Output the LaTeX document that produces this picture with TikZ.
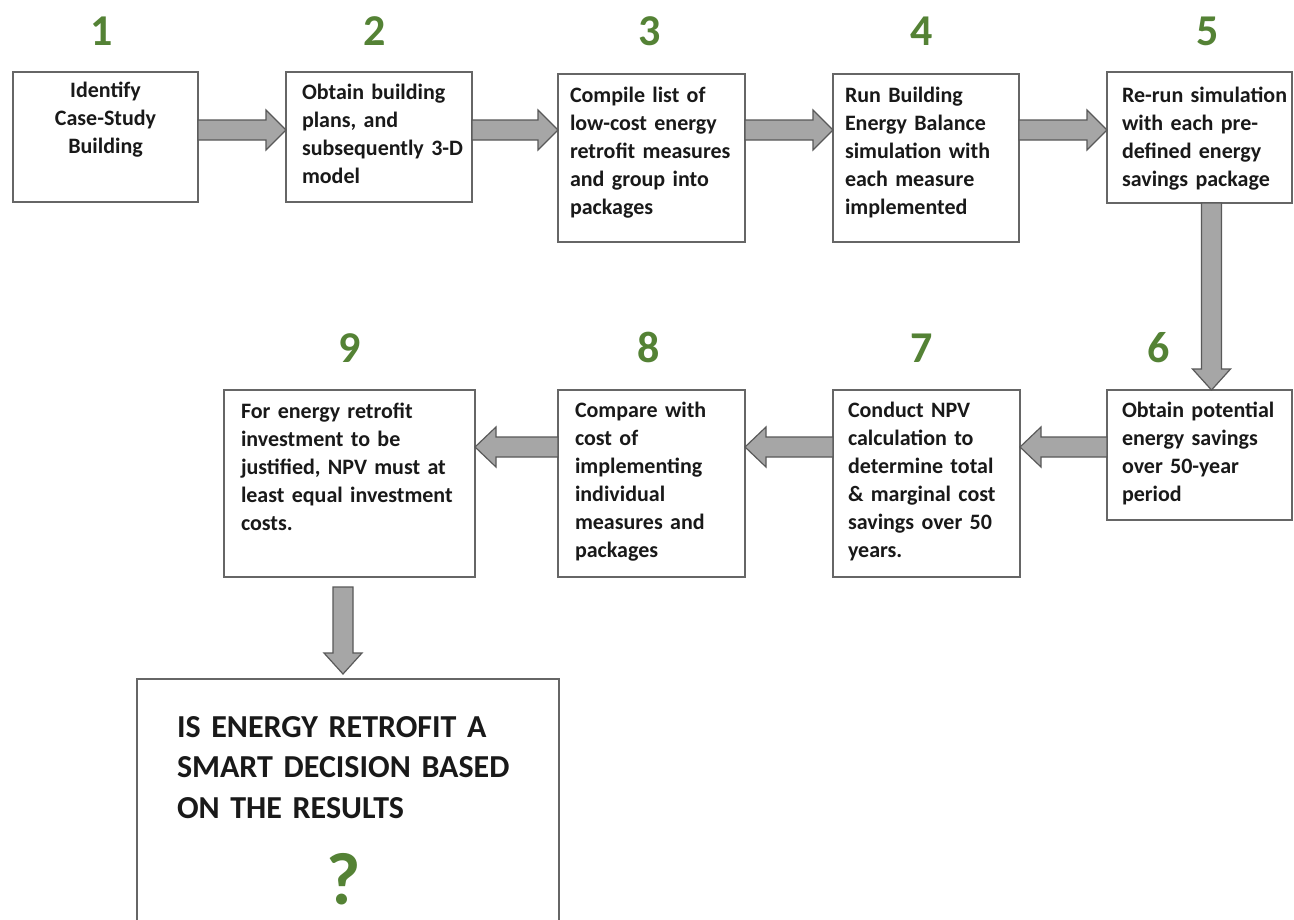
\documentclass[tikz,border=0pt]{standalone}
\usepackage{fontspec}
\setmainfont{Carlito}
\usetikzlibrary{calc}
\definecolor{numgreen}{HTML}{548235}
\definecolor{boxline}{HTML}{666666}
\definecolor{arrfill}{HTML}{A6A6A6}
\definecolor{arrline}{HTML}{595959}
\tikzset{
  frame/.style={draw=boxline, line width=1.5pt, fill=white, inner sep=0pt, outer sep=0pt, anchor=north west},
  btext/.style={inner sep=0pt, outer sep=0pt, anchor=base west, align=left, text=black!90,
    font=\fontsize{22}{28}\selectfont\bfseries},
  stepnum/.style={inner sep=0pt, anchor=base, text=numgreen, font=\fontsize{44}{44}\selectfont\bfseries},
  blk/.style={fill=arrfill, draw=arrline, line width=1.2pt, line join=miter},
}
\newcommand\rarrow[3]{%
  \path (#1.east |- #3) coordinate (as) (#2.west |- #3) coordinate (ae);
  \filldraw[blk] ($(as)+(0,-10)$) -- ($(ae)+(-20,-10)$) -- ($(ae)+(-20,-20)$) -- (ae)
    -- ($(ae)+(-20,20)$) -- ($(ae)+(-20,10)$) -- ($(as)+(0,10)$) -- cycle;}
\newcommand\larrow[3]{%
  \path (#1.west |- #3) coordinate (as) (#2.east |- #3) coordinate (ae);
  \filldraw[blk] ($(as)+(0,-10)$) -- ($(ae)+(21,-10)$) -- ($(ae)+(21,-20)$) -- (ae)
    -- ($(ae)+(21,20)$) -- ($(ae)+(21,10)$) -- ($(as)+(0,10)$) -- cycle;}
% #1 from, #2 to, #3 column, #4 start gap, #5 end gap
\newcommand\darrow[5]{%
  \path ($(#3 |- #1.south)+(0,#4)$) coordinate (as) ($(#3 |- #2.north)+(0,-#5)$) coordinate (ae);
  \filldraw[blk] ($(as)+(-10,0)$) -- ($(ae)+(-10,-21)$) -- ($(ae)+(-19,-21)$) -- (ae)
    -- ($(ae)+(19,-21)$) -- ($(ae)+(10,-21)$) -- ($(as)+(10,0)$) -- cycle;}
\begin{document}
\begin{tikzpicture}[x=1pt,y=-1pt]
\useasboundingbox (0,0) rectangle (1294,919);
\fill[white] (0,0) rectangle (1294,919);
\coordinate (r1) at (0,130);
\coordinate (r2) at (0,447);
\coordinate (c5) at (1211.5,0);
\coordinate (c9) at (343,0);

% step numbers
\node[stepnum] (n1) at (102,45) {1};
\node[stepnum] (n2) at (375,45) {2};
\node[stepnum] (n3) at (650,45) {3};
\node[stepnum] (n4) at (922,45) {4};
\node[stepnum] (n5) at (1208,45) {5};
\node[stepnum] (n9) at (350,362) {9};
\node[stepnum] (n8) at (649,362) {8};
\node[stepnum] (n7) at (922,362) {7};
\node[stepnum] (n6) at (1159,362) {6};

% boxes
\node[frame, minimum width=185, minimum height=130] (b1) at (13,72) {};
\node[frame, minimum width=186, minimum height=130] (b2) at (286,72) {};
\node[frame, minimum width=187, minimum height=168] (b3) at (558,74) {};
\node[frame, minimum width=186, minimum height=168] (b4) at (833,74) {};
\node[frame, minimum width=185, minimum height=131] (b5) at (1107,72) {};
\node[frame, minimum width=185, minimum height=130] (b6) at (1107,390) {};
\node[frame, minimum width=187, minimum height=187] (b7) at (833,390) {};
\node[frame, minimum width=187, minimum height=187] (b8) at (558,390) {};
\node[frame, minimum width=251, minimum height=187] (b9) at (224,390) {};
\node[frame, minimum width=422, minimum height=280] (b10) at (137,679) {};

% texts
\node[btext, anchor=base, align=center, text width=170] (t1) at ($(b1.north)+(0,25)$) {Identify\\Case-Study\\Building};
\node[btext, text width=175] (t2) at ($(b2.north west)+(16,27)$) {Obtain building\\plans, and\\subsequently 3-D\\model};
\node[btext, text width=178] (t3) at ($(b3.north west)+(12,28)$) {Compile list of\\low-cost energy\\retrofit measures\\and group into\\packages};
\node[btext, text width=175] (t4) at ($(b4.north west)+(12,28)$) {Run Building\\Energy Balance\\simulation with\\each measure\\implemented};
\node[btext, text width=175] (t5) at ($(b5.north west)+(15,30)$) {Re-run simulation\\with each pre-\\defined energy\\savings package};
\node[btext, text width=175] (t6) at ($(b6.north west)+(15,27)$) {Obtain potential\\energy savings\\over 50-year\\period};
\node[btext, text width=175] (t7) at ($(b7.north west)+(15,27)$) {Conduct NPV\\calculation to\\determine total\\\& marginal cost\\savings over 50\\years.};
\node[btext, text width=175] (t8) at ($(b8.north west)+(17,27)$) {Compare with\\cost of\\implementing\\individual\\measures and\\packages};
\node[btext, text width=240] (t9) at ($(b9.north west)+(17,28)$) {For energy retrofit\\investment to be\\justified, NPV must at\\least equal investment\\costs.};
\node[btext, text width=400, font=\fontsize{32}{40.5}\selectfont\bfseries] (t10) at ($(b10.north west)+(40,58)$) {IS ENERGY RETROFIT A\\SMART DECISION BASED\\ON THE RESULTS};
\node[inner sep=0pt, anchor=base, text=numgreen, font=\fontsize{74}{74}\selectfont\bfseries] (q) at (344,904) {?};

% arrows
\rarrow{b1}{b2}{r1}
\rarrow{b2}{b3}{r1}
\rarrow{b3}{b4}{r1}
\rarrow{b4}{b5}{r1}
\darrow{b5}{b6}{c5}{0}{0}
\larrow{b6}{b7}{r2}
\larrow{b7}{b8}{r2}
\larrow{b8}{b9}{r2}
\darrow{b9}{b10}{c9}{10}{5}
\end{tikzpicture}
\end{document}
